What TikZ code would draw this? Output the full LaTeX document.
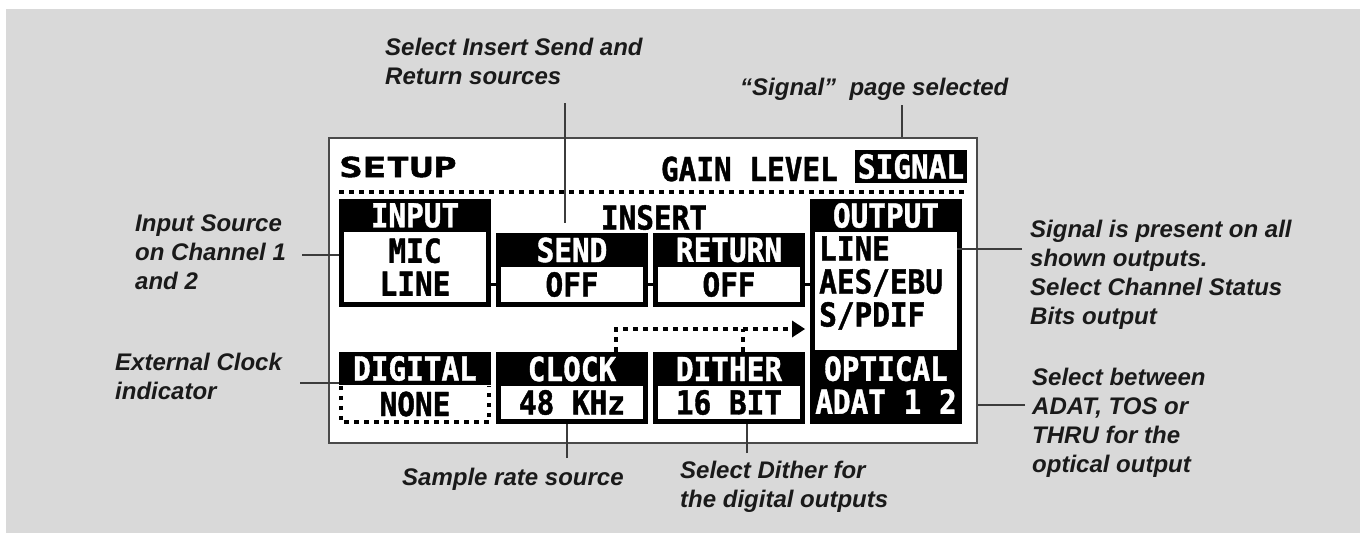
\documentclass[tikz,border=0pt]{standalone}
\usepackage{fontspec}
\setmainfont{Liberation Sans}
\newfontfamily\lcdfont{DejaVu Sans Mono}[FakeStretch=0.89, FakeBold=1.2]
\newfontfamily\setupfont{DejaVu Sans Mono}[FakeStretch=1.42, FakeBold=2]
\usepackage{tikz}
\usetikzlibrary{arrows.meta}
\definecolor{panelgray}{HTML}{D9D9D9}
\definecolor{leadgray}{HTML}{3C3C3C}
\definecolor{scrgray}{HTML}{4A4A4A}
\definecolor{captext}{HTML}{1A1A1A}

\begin{document}
\begin{tikzpicture}[x=1pt, y=-1pt,
    lcd/.style={font=\lcdfont\bfseries\fontsize{33}{33}\selectfont, inner sep=0},
    lcdhead/.style={lcd, fill=black, text=white, minimum width=152pt, minimum height=33pt},
    lcdval/.style={lcd, fill=white, draw=black, line width=5pt, minimum width=147pt},
    lcdlink/.style={line width=3.5pt},
    lcddots/.style={line width=4pt, dash pattern=on 4.5pt off 5.5pt},
    leader/.style={draw=leadgray, line width=1.2pt},
    callout/.style={font=\bfseries\itshape\fontsize{24}{29}\selectfont, text=captext, align=left, anchor=north west, inner sep=0}
]
\useasboundingbox (0,0) rectangle (1360,533);
\fill[panelgray] (6,9) rectangle (1360,533);

\node[draw=scrgray, fill=white, line width=1.5pt, minimum width=648pt, minimum height=305pt, inner sep=0] (screen) at (653,290.5) {};

\node[anchor=west, inner sep=0, font=\setupfont\bfseries\fontsize{27.5}{27.5}\selectfont] (setup) at (339,167) {SETUP};
\node[lcd, anchor=east] (gain) at (838,169) {GAIN LEVEL};
\node[lcd, fill=black, text=white, minimum width=112pt, minimum height=33pt] (signal) at (911,166.5) {SIGNAL};
\coordinate (rule) at (339,191.5);
\draw[lcddots] (rule) -- (rule -| signal.east);

\node[lcdval, minimum height=75pt, align=center] (input val) at (415,267) {MIC\\LINE};
\node[lcdhead] (input head) at (415,215.5) {INPUT};
\node[lcd] (insert) at (654,217.5) {INSERT};
\node[lcdval, minimum height=40pt] (send val) at (572,284.5) {OFF};
\node[lcdhead, minimum height=34pt] (send head) at (572,250) {SEND};
\node[lcdval, minimum height=40pt] (return val) at (729,284.5) {OFF};
\node[lcdhead, minimum height=34pt] (return head) at (729,250) {RETURN};

\node[fill=black, minimum width=152pt, minimum height=225pt, inner sep=0] (output) at (886,311.5) {};
\node[fill=white, minimum width=142pt, minimum height=118pt, inner sep=0] (output val) at (886,291) {};
\node[lcdhead] (output head) at (886,215.5) {OUTPUT};
\node[lcd, align=left, anchor=west] (output list) at (819,283) {LINE\\AES/EBU\\S/PDIF};
\node[lcd, text=white, align=center] (optical) at (886,385) {OPTICAL\\ADAT 1 2};

\node[lcdhead] (digital head) at (415,368.5) {DIGITAL};
\node[lcd, minimum width=148pt, minimum height=36pt] (digital val) at (415,404) {NONE};
\draw[lcddots] (digital val.north west) -- (digital val.south west) -- (digital val.south east) -- (digital val.north east);
\node[lcdval, minimum height=38pt] (clock val) at (572,402.5) {48 KHz};
\node[lcdhead, minimum height=34pt] (clock head) at (572,369) {CLOCK};
\node[lcdval, minimum height=38pt] (dither val) at (729,402.5) {16 BIT};
\node[lcdhead, minimum height=34pt] (dither head) at (729,369) {DITHER};

\draw[lcdlink] (input val.east |- send val.west) -- (send val.west);
\draw[lcdlink] (send val.east) -- (return val.west);
\draw[lcdlink] (return val.east) -- (output.west |- return val.east);

\coordinate (clk up) at (616,329);
\coordinate (dth up) at (743,329);
\draw[lcddots, -{Triangle[length=13pt, width=17pt, line width=0pt]}] (clk up |- clock head.north) -- (clk up) -- (clk up -| return val.east);
\draw[lcddots] (dth up |- dither head.north) -- (dth up);

\node[callout] (ins lbl) at (385,37.7) {Select Insert Send and\\Return sources};
\node[callout] (page lbl) at (740,77.7) {“Signal”~ page selected};
\node[callout] (in lbl) at (135,214.7) {Input Source\\on Channel 1\\and 2};
\node[callout] (ext lbl) at (115,352.7) {External Clock\\indicator};
\node[callout] (sig lbl) at (1030,219.7) {Signal is present on all\\shown outputs.\\Select Channel Status\\Bits output};
\node[callout] (sel lbl) at (1032,367.7) {Select between\\ADAT, TOS or\\THRU for the\\optical output};
\node[callout] (rate lbl) at (402,468) {Sample rate source};
\node[callout] (dith lbl) at (680,460.5) {Select Dither for\\the digital outputs};

\coordinate (ins top) at (565,103);
\coordinate (ins end) at (565,223);
\coordinate (page end) at (902,105);
\coordinate (in end) at (302,255);
\coordinate (ext end) at (300,383);
\coordinate (sig end) at (1022,249);
\coordinate (sel end) at (1025,405);
\coordinate (rate end) at (567,458);
\coordinate (dith end) at (747,453);
\draw[leader] (ins top) -- (ins end);
\draw[leader] (page end) -- (page end |- screen.north);
\draw[leader] (in end) -- (in end -| input val.west);
\draw[leader] (ext end) -- (ext end -| digital head.west);
\draw[leader] (sig end) -- (sig end -| output val.east);
\draw[leader] (sel end) -- (sel end -| screen.east);
\draw[leader] (rate end) -- (rate end |- clock val.south);
\draw[leader] (dith end) -- (dith end |- dither val.south);
\end{tikzpicture}
\end{document}
